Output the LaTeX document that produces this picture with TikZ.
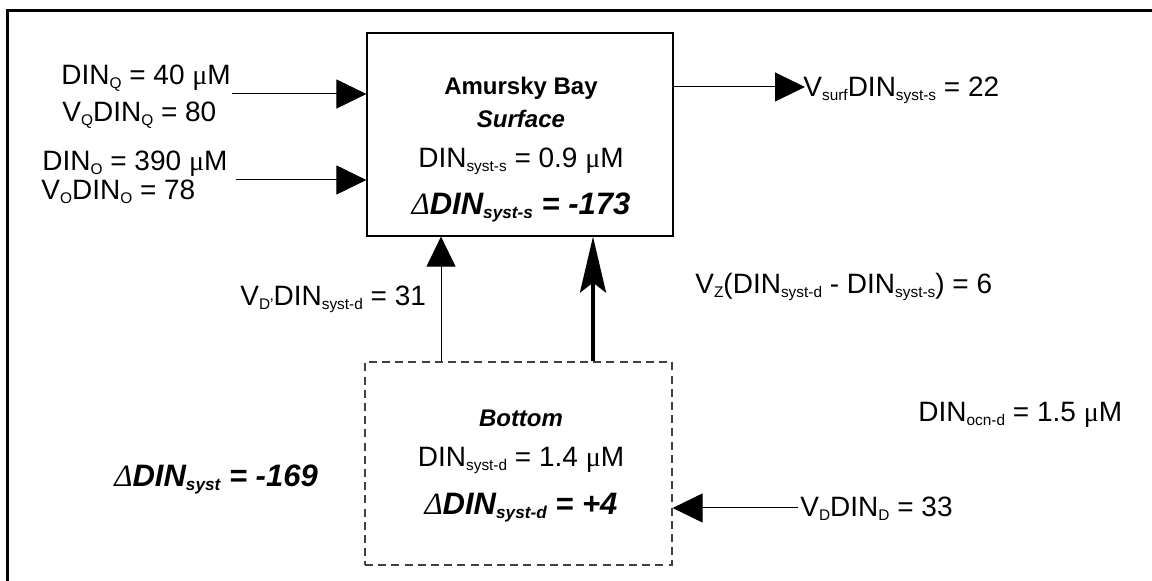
\documentclass[tikz,border=0pt]{standalone}
\usepackage{fontspec}
\setmainfont{Liberation Sans}
\newfontfamily\symf{Liberation Serif}
\usetikzlibrary{arrows.meta}
\newcommand{\sbs}[1]{\raisebox{-0.12em}{\fontsize{7.7pt}{7.7pt}\selectfont #1}}
\newcommand{\sbb}[1]{\raisebox{-0.12em}{\fontsize{8.6pt}{8.6pt}\selectfont\bfseries\itshape #1}}
\newcommand{\mum}{{\symf μ}M}
\newcommand{\dlt}{{\symf\mdseries\itshape Δ}}
\tikzset{
  txt/.style={inner sep=0pt, anchor=base west, font=\fontsize{14pt}{14pt}\selectfont},
  ctxt/.style={inner sep=0pt, anchor=base, font=\fontsize{14pt}{14pt}\selectfont},
  boxs/.style={draw, line width=0.6pt, minimum width=153pt, minimum height=101.5pt, inner sep=0pt},
  boxd/.style={draw=black!75, line width=0.6pt, dash pattern=on 4pt off 2.6pt, minimum width=153.5pt, minimum height=101.5pt, inner sep=0pt},
  arr/.style={line width=0.5pt, -{Triangle[length=15pt, width=14.5pt]}},
  tarr/.style={line width=2pt, -{Stealth[length=28pt, width=13pt, inset=5pt]}},
  big/.style={font=\fontsize{15.5pt}{15.5pt}\selectfont\bfseries\itshape},
}
\begin{document}
\begin{tikzpicture}[x=0.5pt, y=-0.5pt]
\useasboundingbox (0,0) rectangle (1152,581);
% frame
\draw[line width=1.2pt] (7.5,581) -- (7.5,10.5) -- (1152,10.5);
% boxes
\node[boxs] (sbox) at (520,134.5) {};
\node[boxd] (bbox) at (518.5,463.5) {};
% surface box text
\node[ctxt, font=\fontsize{12pt}{12pt}\selectfont\bfseries] (amb) at (521,95) {Amursky Bay};
\node[ctxt, font=\fontsize{12pt}{12pt}\selectfont\bfseries\itshape] (surf) at (521,128) {Surface};
\node[ctxt] (dins) at (521,168) {DIN\sbs{syst-s} = 0.9 \mum};
\node[ctxt, big] (ddins) at (521,215) {\dlt DIN\sbb{syst-s} = -173};
% bottom box text
\node[ctxt, font=\fontsize{12pt}{12pt}\selectfont\bfseries\itshape] (bot) at (521,427) {Bottom};
\node[ctxt] (dind) at (521,467) {DIN\sbs{syst-d} = 1.4 \mum};
\node[ctxt, big] (ddind) at (521,515) {\dlt DIN\sbb{syst-d} = +4};
% labels
\node[txt] (dinq) at (61,85) {DIN\sbs{Q} = 40 \mum};
\node[txt] (vq) at (62,122) {V\sbs{Q}DIN\sbs{Q} = 80};
\node[txt] (dino) at (42,171) {DIN\sbs{O} = 390 \mum};
\node[txt] (vo) at (41,200) {V\sbs{O}DIN\sbs{O} = 78};
\node[txt] (vsurf) at (803,97) {V\sbs{surf}DIN\sbs{syst-s} = 22};
\node[txt] (vdp) at (240,306) {V\sbs{D'}DIN\sbs{syst-d} = 31};
\node[txt] (vz) at (695,294) {V\sbs{Z}(DIN\sbs{syst-d} - DIN\sbs{syst-s}) = 6};
\node[txt] (docn) at (918,422) {DIN\sbs{ocn-d} = 1.5 \mum};
\node[txt] (vd) at (800,517) {V\sbs{D}DIN\sbs{D} = 33};
\node[txt, big] (dsyst) at (114,487) {\dlt DIN\sbb{syst} = -169};
% connector endpoints
\coordinate (qs) at (232,94);
\coordinate (os) at (236,180);
\coordinate (surfend) at (805,87);
\coordinate (vds) at (798,508);
% arrows
\draw[arr] (qs) -- (sbox.west |- qs);
\draw[arr] (os) -- (sbox.west |- os);
\draw[arr] (sbox.east |- surfend) -- (surfend);
\draw[arr] (bbox.north -| 441,0) -- (sbox.south -| 441,0);
\draw[tarr] (bbox.north -| 593,0) -- (sbox.south -| 593,0);
\draw[arr] (vds) -- (bbox.east |- vds);
\end{tikzpicture}
\end{document}
